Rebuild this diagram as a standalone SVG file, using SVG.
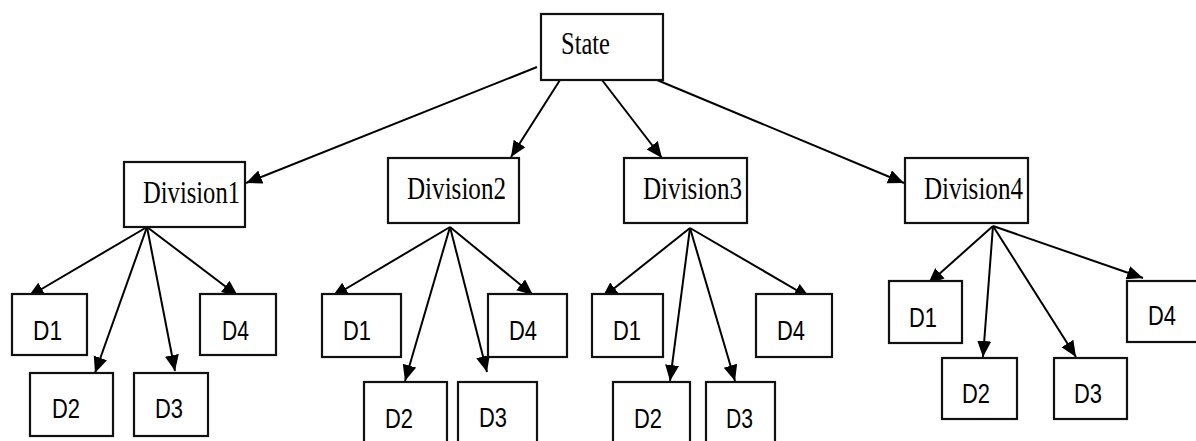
<svg xmlns="http://www.w3.org/2000/svg" width="1196" height="441" viewBox="0 0 1196 441">
<style>
.box{fill:#fff;stroke:#111;stroke-width:2.2}
.ser{font-family:"Liberation Serif","Times New Roman",serif;font-size:31px;fill:#000}
.san{font-family:"Liberation Sans",Arial,sans-serif;font-size:28px;fill:#000}
.edge{stroke:#000;stroke-width:2;fill:none;marker-end:url(#ah)}
</style>
<defs>
<marker id="ah" markerUnits="userSpaceOnUse" markerWidth="18" markerHeight="16" refX="16" refY="7" orient="auto">
<path d="M0,0 L16,7 L0,14 z" fill="#000"/>
</marker>
</defs>
<rect width="1196" height="441" fill="#fff"/>
<g id="connectors">
<line class="edge" x1="537" y1="67" x2="246" y2="183"/>
<line class="edge" x1="560" y1="80" x2="511" y2="157"/>
<line class="edge" x1="602" y1="80" x2="662" y2="158"/>
<line class="edge" x1="657" y1="80" x2="904" y2="183"/>
<line class="edge" x1="147" y1="227" x2="28" y2="297"/>
<line class="edge" x1="147" y1="227" x2="95" y2="373"/>
<line class="edge" x1="147" y1="227" x2="175" y2="371"/>
<line class="edge" x1="147" y1="227" x2="238" y2="296"/>
<line class="edge" x1="450" y1="227" x2="332" y2="297"/>
<line class="edge" x1="450" y1="227" x2="405" y2="381"/>
<line class="edge" x1="450" y1="227" x2="487" y2="372"/>
<line class="edge" x1="450" y1="227" x2="533" y2="295"/>
<line class="edge" x1="690" y1="228" x2="602" y2="298"/>
<line class="edge" x1="690" y1="228" x2="670" y2="381"/>
<line class="edge" x1="690" y1="228" x2="735" y2="381"/>
<line class="edge" x1="690" y1="228" x2="810" y2="298"/>
<line class="edge" x1="993" y1="226" x2="928" y2="284"/>
<line class="edge" x1="993" y1="226" x2="983" y2="357"/>
<line class="edge" x1="993" y1="226" x2="1076" y2="357"/>
<line class="edge" x1="993" y1="226" x2="1143" y2="278"/>
</g>
<g id="state"><rect class="box" x="541" y="14" width="122" height="66"/><text class="ser" x="561" y="54" textLength="49" lengthAdjust="spacingAndGlyphs">State</text></g>
<g id="division1"><rect class="box" x="124" y="162" width="121" height="65"/><text class="ser" x="143" y="203" textLength="97" lengthAdjust="spacingAndGlyphs">Division1</text></g>
<g id="division2"><rect class="box" x="388" y="158" width="131" height="65"/><text class="ser" x="407" y="199" textLength="99" lengthAdjust="spacingAndGlyphs">Division2</text></g>
<g id="division3"><rect class="box" x="624" y="158" width="123" height="65"/><text class="ser" x="643" y="199" textLength="99" lengthAdjust="spacingAndGlyphs">Division3</text></g>
<g id="division4"><rect class="box" x="905" y="158" width="123" height="65"/><text class="ser" x="924" y="199" textLength="99" lengthAdjust="spacingAndGlyphs">Division4</text></g>

<g id="div1-d1"><rect class="box" x="12" y="294" width="75" height="61"/><text class="san" x="33" y="340" textLength="29" lengthAdjust="spacingAndGlyphs">D1</text></g>
<g id="div1-d2"><rect class="box" x="30" y="373" width="83" height="63"/><text class="san" x="52" y="418" textLength="28" lengthAdjust="spacingAndGlyphs">D2</text></g>
<g id="div1-d3"><rect class="box" x="134" y="373" width="74" height="63"/><text class="san" x="155" y="418" textLength="28" lengthAdjust="spacingAndGlyphs">D3</text></g>
<g id="div1-d4"><rect class="box" x="200" y="294" width="76" height="61"/><text class="san" x="222" y="340" textLength="27" lengthAdjust="spacingAndGlyphs">D4</text></g>

<g id="div2-d1"><rect class="box" x="322" y="294" width="79" height="63"/><text class="san" x="343" y="340" textLength="28" lengthAdjust="spacingAndGlyphs">D1</text></g>
<g id="div2-d2"><rect class="box" x="364" y="382" width="83" height="65"/><text class="san" x="385" y="428" textLength="28" lengthAdjust="spacingAndGlyphs">D2</text></g>
<g id="div2-d3"><rect class="box" x="458" y="382" width="79" height="65"/><text class="san" x="479" y="427" textLength="28" lengthAdjust="spacingAndGlyphs">D3</text></g>
<g id="div2-d4"><rect class="box" x="488" y="294" width="79" height="63"/><text class="san" x="509" y="340" textLength="28" lengthAdjust="spacingAndGlyphs">D4</text></g>

<g id="div3-d1"><rect class="box" x="592" y="294" width="71" height="63"/><text class="san" x="613" y="340" textLength="28" lengthAdjust="spacingAndGlyphs">D1</text></g>
<g id="div3-d2"><rect class="box" x="613" y="382" width="77" height="65"/><text class="san" x="634" y="428" textLength="28" lengthAdjust="spacingAndGlyphs">D2</text></g>
<g id="div3-d3"><rect class="box" x="706" y="382" width="69" height="65"/><text class="san" x="726" y="428" textLength="27" lengthAdjust="spacingAndGlyphs">D3</text></g>
<g id="div3-d4"><rect class="box" x="756" y="294" width="76" height="63"/><text class="san" x="777" y="340" textLength="28" lengthAdjust="spacingAndGlyphs">D4</text></g>

<g id="div4-d1"><rect class="box" x="889" y="281" width="73" height="62"/><text class="san" x="909" y="327" textLength="28" lengthAdjust="spacingAndGlyphs">D1</text></g>
<g id="div4-d2"><rect class="box" x="942" y="358" width="75" height="61"/><text class="san" x="962" y="403" textLength="28" lengthAdjust="spacingAndGlyphs">D2</text></g>
<g id="div4-d3"><rect class="box" x="1054" y="358" width="73" height="61"/><text class="san" x="1074" y="403" textLength="28" lengthAdjust="spacingAndGlyphs">D3</text></g>
<g id="div4-d4"><rect class="box" x="1127" y="281" width="75" height="61"/><text class="san" x="1148" y="325" textLength="28" lengthAdjust="spacingAndGlyphs">D4</text></g>
</svg>
